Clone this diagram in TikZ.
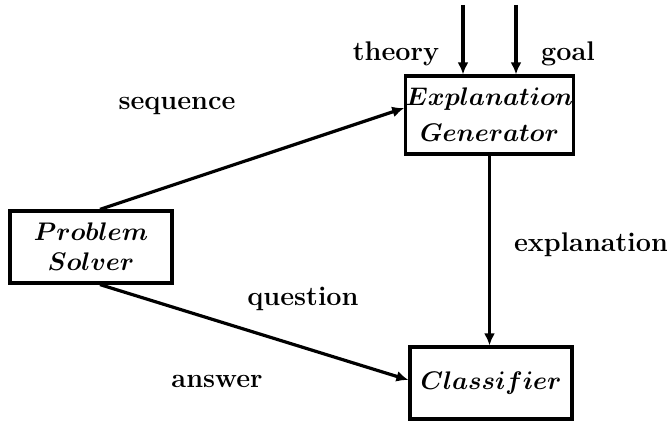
\documentclass[tikz,border=0pt]{standalone}
\usepackage{amsmath,amssymb}
\usepackage{graphicx}
\usetikzlibrary{arrows.meta,positioning}
\newcommand{\boxname}[1]{\scalebox{1.06}{$#1$}}

\begin{document}
\begin{tikzpicture}[x=0.5pt, y=0.5pt, font=\fontsize{13.5}{15}\selectfont\bfseries,
  procbox/.style={draw, line width=1.6pt, align=center, minimum width=81pt, minimum height=36pt, inner sep=2pt, font=\fontsize{13}{15}\selectfont\boldmath},
  lbl/.style={inner sep=1pt},
  arrow/.style={line width=1.6pt, -{Latex[length=6pt, width=5.5pt]}}]
\useasboundingbox (0,0) rectangle (667,426);
\node[procbox] (solver) at (91,179) {\boxname{Problem}\\ \boxname{Solver}};
\node[procbox, minimum height=39pt, inner xsep=0pt, font=\fontsize{13}{18}\selectfont\boldmath] (explgen) at (489.5,311) {\boxname{Explanation}\\ \boxname{Generator}};
\node[procbox] (classifier) at (491,43) {\boxname{Classifier}};
\coordinate (theorytop) at (463,421);
\coordinate (goaltop) at (516,421);
\node[lbl] (theory) at (396,372) {theory};
\node[lbl] (goal) at (568,372) {goal};
\node[lbl] (sequence) at (177,320) {sequence};
\node[lbl] (question) at (303,127) {question};
\node[lbl] (answer) at (217,45) {answer};
\node[lbl] (explanation) at (591,181) {explanation};
\draw[arrow] (theorytop) -- (theorytop |- explgen.north);
\draw[arrow] (goaltop) -- (goaltop |- explgen.north);
\draw[arrow] ([xshift=4.5pt]solver.north) -- ([yshift=3.5pt]explgen.west);
\draw[arrow] ([xshift=4.5pt]solver.south) -- ([yshift=1.5pt]classifier.west);
\draw[arrow] (explgen.south) -- (explgen.south |- classifier.north);
\end{tikzpicture}
\end{document}
